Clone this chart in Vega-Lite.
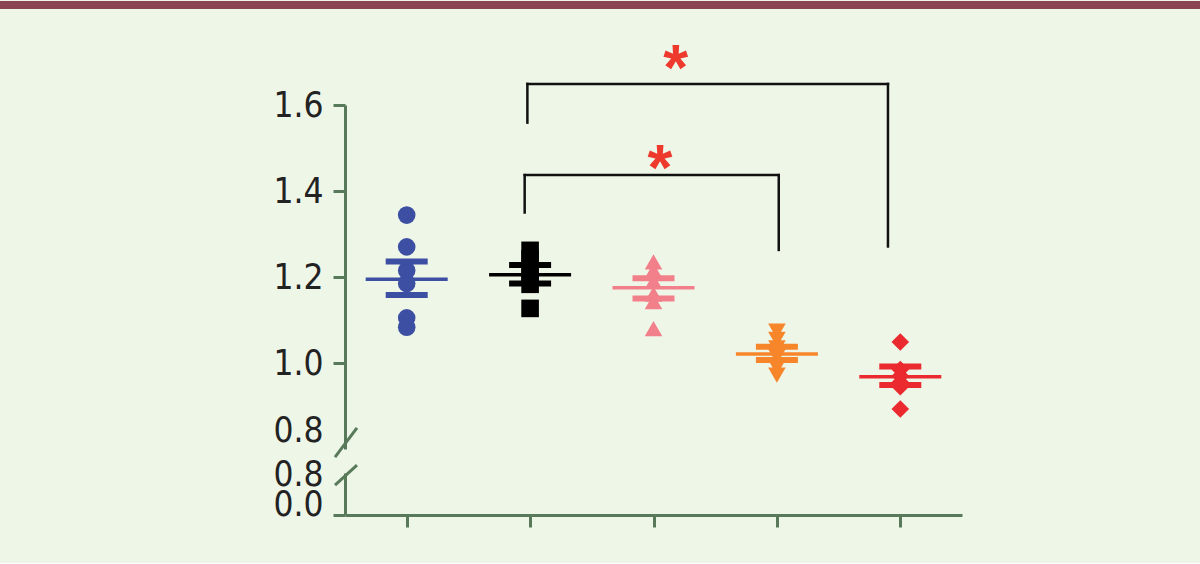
{
  "$schema": "https://vega.github.io/schema/vega-lite/v6.json",
  "background": "#eef6e8",
  "padding": {"left": 0, "top": 1, "right": 0, "bottom": 34},
  "config": {
    "view": {"stroke": null},
    "axis": {
      "domainColor": "#587a5a", "domainWidth": 3,
      "tickColor": "#587a5a", "tickWidth": 3, "tickSize": 12,
      "labelFont": "Liberation Sans Narrow, DejaVu Sans Condensed, Roboto Condensed, Liberation Sans, sans-serif", "labelFontSize": 35, "labelColor": "#222222",
      "labelPadding": 10, "grid": false, "labelFlush": false, "labelOverlap": false, "labelBound": false
    }
  },
  "datasets": {
    "points": [
      {"group": 1, "grp": "A", "value": 1.344}, {"group": 1, "grp": "A", "value": 1.270}, {"group": 1, "grp": "A", "value": 1.215},
      {"group": 1, "grp": "A", "value": 1.185}, {"group": 1, "grp": "A", "value": 1.105}, {"group": 1, "grp": "A", "value": 1.083},
      {"group": 2, "grp": "B", "value": 1.262}, {"group": 2, "grp": "B", "value": 1.242}, {"group": 2, "grp": "B", "value": 1.222},
      {"group": 2, "grp": "B", "value": 1.200}, {"group": 2, "grp": "B", "value": 1.183}, {"group": 2, "grp": "B", "value": 1.127},
      {"group": 3, "grp": "C", "value": 1.235}, {"group": 3, "grp": "C", "value": 1.215}, {"group": 3, "grp": "C", "value": 1.190},
      {"group": 3, "grp": "C", "value": 1.160}, {"group": 3, "grp": "C", "value": 1.143}, {"group": 3, "grp": "C", "value": 1.080},
      {"group": 4, "grp": "D", "value": 1.074}, {"group": 4, "grp": "D", "value": 1.055}, {"group": 4, "grp": "D", "value": 1.035},
      {"group": 4, "grp": "D", "value": 1.015}, {"group": 4, "grp": "D", "value": 0.990}, {"group": 4, "grp": "D", "value": 0.972},
      {"group": 5, "grp": "E", "value": 1.049}, {"group": 5, "grp": "E", "value": 0.985}, {"group": 5, "grp": "E", "value": 0.970},
      {"group": 5, "grp": "E", "value": 0.955}, {"group": 5, "grp": "E", "value": 0.945}, {"group": 5, "grp": "E", "value": 0.893}
    ],
    "summary": [
      {"group": 1, "grp": "A", "mean": 1.195, "lo": 1.158, "hi": 1.236},
      {"group": 2, "grp": "B", "mean": 1.205, "lo": 1.185, "hi": 1.228},
      {"group": 3, "grp": "C", "mean": 1.175, "lo": 1.150, "hi": 1.197},
      {"group": 4, "grp": "D", "mean": 1.021, "lo": 1.007, "hi": 1.038},
      {"group": 5, "grp": "E", "mean": 0.968, "lo": 0.949, "hi": 0.992}
    ],
    "brackets": [
      {"x": 1.956, "x2": 4.015, "y": 1.437, "y2": 1.437},
      {"x": 1.956, "x2": 1.956, "y": 1.437, "y2": 1.350},
      {"x": 4.015, "x2": 4.015, "y": 1.437, "y2": 1.263},
      {"x": 1.978, "x2": 4.900, "y": 1.649, "y2": 1.649},
      {"x": 1.978, "x2": 1.978, "y": 1.649, "y2": 1.559},
      {"x": 4.900, "x2": 4.900, "y": 1.649, "y2": 1.271}
    ],
    "stars": [
      {"x": 3.18, "y": 1.712, "label": "*"},
      {"x": 3.053, "y": 1.480, "label": "*"}
    ]
  },
  "spacing": 29,
  "vconcat": [
    {
      "width": 855, "height": 8,
      "data": {"values": [{}]},
      "mark": {"type": "rect", "color": "#8b4452"},
      "encoding": {
        "x": {"datum": 0, "type": "quantitative", "scale": {"domain": [0, 1], "range": [-345, 855], "nice": false, "zero": false}, "axis": null},
        "x2": {"datum": 1},
        "y": {"datum": 0, "type": "quantitative", "scale": {"domain": [0, 1], "nice": false, "zero": false}, "axis": null},
        "y2": {"datum": 1}
      }
    },
    {
      "bounds": "flush",
      "spacing": 24,
      "vconcat": [
        {
          "width": 617, "height": 344,
          "layer": [
            {
              "data": {"name": "summary"},
              "mark": {"type": "rule", "strokeWidth": 3},
              "encoding": {
                "x": {"field": "group", "type": "quantitative", "scale": {"domain": [0.5, 5.5], "nice": false, "zero": false}, "axis": null, "title": null},
                "y": {"field": "lo", "type": "quantitative", "scale": {"domain": [0.8, 1.6], "nice": false, "zero": false}, "title": null,
                  "axis": {
                    "values": [0.8, 1.0, 1.2, 1.4, 1.6], "format": ".1f", "minExtent": 345,
                    "tickOpacity": {"condition": {"test": "datum.value < 0.9", "value": 0}, "value": 1},
                    "labelOffset": {"condition": {"test": "datum.value < 0.9", "value": -19}, "value": 0}
                  }},
                "y2": {"field": "hi"},
                "color": {"field": "grp", "type": "nominal", "legend": null,
                  "scale": {"domain": ["A", "B", "C", "D", "E"], "range": ["#3d4fa3", "#000000", "#f2808a", "#f7862b", "#ea2a2e"]}}
              }
            },
            {
              "data": {"name": "points"},
              "mark": {"type": "point", "filled": true, "opacity": 1, "size": 310},
              "encoding": {
                "x": {"field": "group", "type": "quantitative", "scale": {"domain": [0.5, 5.5], "nice": false, "zero": false}, "axis": null, "title": null},
                "y": {"field": "value", "type": "quantitative", "scale": {"domain": [0.8, 1.6], "nice": false, "zero": false}, "title": null},
                "color": {"field": "grp", "type": "nominal", "legend": null},
                "shape": {"field": "grp", "type": "nominal", "legend": null,
                  "scale": {"domain": ["A", "B", "C", "D", "E"], "range": ["circle", "square", "triangle-up", "triangle-down", "diamond"]}}
              }
            },
            {
              "data": {"name": "summary"},
              "mark": {"type": "tick", "orient": "horizontal", "size": 82, "thickness": 3.5, "opacity": 1},
              "encoding": {
                "x": {"field": "group", "type": "quantitative", "scale": {"domain": [0.5, 5.5], "nice": false, "zero": false}, "axis": null, "title": null},
                "y": {"field": "mean", "type": "quantitative", "scale": {"domain": [0.8, 1.6], "nice": false, "zero": false}, "title": null},
                "color": {"field": "grp", "type": "nominal", "legend": null}
              }
            },
            {
              "data": {"name": "summary"},
              "mark": {"type": "tick", "orient": "horizontal", "size": 42, "thickness": 6, "opacity": 1},
              "encoding": {
                "x": {"field": "group", "type": "quantitative", "scale": {"domain": [0.5, 5.5], "nice": false, "zero": false}, "axis": null, "title": null},
                "y": {"field": "hi", "type": "quantitative", "scale": {"domain": [0.8, 1.6], "nice": false, "zero": false}, "title": null},
                "color": {"field": "grp", "type": "nominal", "legend": null}
              }
            },
            {
              "data": {"name": "summary"},
              "mark": {"type": "tick", "orient": "horizontal", "size": 42, "thickness": 6, "opacity": 1},
              "encoding": {
                "x": {"field": "group", "type": "quantitative", "scale": {"domain": [0.5, 5.5], "nice": false, "zero": false}, "axis": null, "title": null},
                "y": {"field": "lo", "type": "quantitative", "scale": {"domain": [0.8, 1.6], "nice": false, "zero": false}, "title": null},
                "color": {"field": "grp", "type": "nominal", "legend": null}
              }
            },
            {
              "data": {"name": "brackets"},
              "mark": {"type": "rule", "color": "#111111", "strokeWidth": 2.5, "strokeCap": "square"},
              "encoding": {
                "x": {"field": "x", "type": "quantitative", "scale": {"domain": [0.5, 5.5], "nice": false, "zero": false}, "axis": null, "title": null},
                "x2": {"field": "x2"},
                "y": {"field": "y", "type": "quantitative", "scale": {"domain": [0.8, 1.6], "nice": false, "zero": false}, "title": null},
                "y2": {"field": "y2"}
              }
            },
            {
              "data": {"name": "stars"},
              "mark": {"type": "text", "color": "#ee3a2c", "font": "Liberation Sans", "fontWeight": "bold", "fontSize": 64, "baseline": "alphabetic", "align": "center", "dy": 33},
              "encoding": {
                "x": {"field": "x", "type": "quantitative", "scale": {"domain": [0.5, 5.5], "nice": false, "zero": false}, "axis": null, "title": null},
                "y": {"field": "y", "type": "quantitative", "scale": {"domain": [0.8, 1.6], "nice": false, "zero": false}, "title": null},
                "text": {"field": "label"}
              }
            },
            {
              "data": {"values": [{}]},
              "mark": {"type": "rule", "color": "#587a5a", "strokeWidth": 3},
              "encoding": {
                "x": {"datum": 0.419, "type": "quantitative", "scale": {"domain": [0.5, 5.5], "nice": false, "zero": false}, "axis": null, "title": null},
                "x2": {"datum": 0.597},
                "y": {"datum": 0.781, "type": "quantitative", "scale": {"domain": [0.8, 1.6], "nice": false, "zero": false}, "title": null},
                "y2": {"datum": 0.849}
              }
            }
          ]
        },
        {
          "width": 617, "height": 42,
          "data": {"values": [{}]},
          "mark": {"type": "rule", "color": "#587a5a", "strokeWidth": 3},
          "encoding": {
            "x": {"datum": 0.419, "type": "quantitative", "scale": {"domain": [0.5, 5.5], "nice": false, "zero": false}, "title": null,
              "axis": {"values": [1, 2, 3, 4, 5], "labels": false, "tickSize": 12}},
            "x2": {"datum": 0.597},
            "y": {"datum": 0.571, "type": "quantitative", "scale": {"domain": [0, 0.8], "nice": false, "zero": false}, "title": null,
              "axis": {
                "values": [0, 0.8], "format": ".1f", "minExtent": 345,
                "tickOpacity": {"condition": {"test": "datum.value > 0.4", "value": 0}, "value": 1},
                "labelOffset": {"condition": {"test": "datum.value < 0.4", "value": -11}, "value": 1}
              }},
            "y2": {"datum": 0.952}
          }
        }
      ]
    }
  ]
}
